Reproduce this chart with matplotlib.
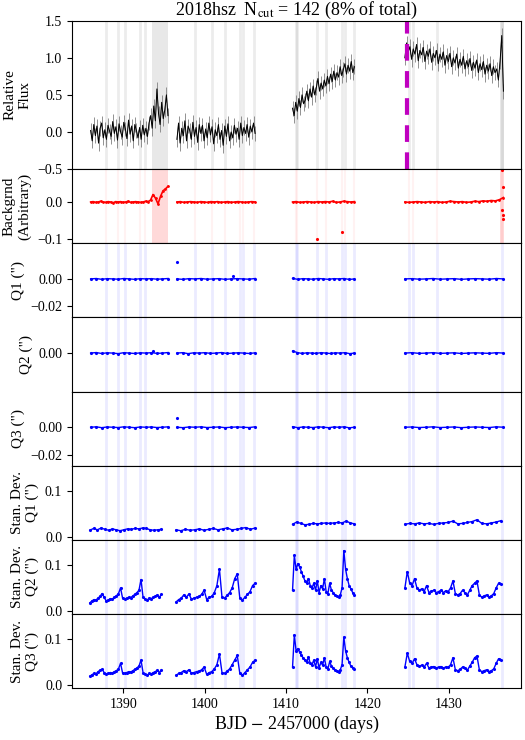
import numpy as np
import matplotlib
matplotlib.use("Agg")
import matplotlib.pyplot as plt

plt.rcParams["font.family"] = ["Liberation Serif", "DejaVu Serif"]
plt.rcParams["mathtext.fontset"] = "stix"
plt.rcParams["font.size"] = 11

# segment time ranges (BJD - 2457000)
seg_ranges = [(1386.0, 1395.5), (1396.6, 1406.2), (1410.8, 1418.4), (1424.6, 1436.7)]
sd_ranges = [(1385.9, 1394.7), (1396.5, 1406.2), (1410.8, 1418.4), (1424.6, 1436.4)]

flux = [
    [0.02, -0.12, 0.10, -0.05, 0.08, -0.15, 0.05, 0.12, -0.08, 0.03, -0.10, 0.09, 0.01, -0.06, 0.14, -0.02, 0.07,
     -0.11, 0.11, 0.00, -0.07, 0.13, 0.04, -0.09, 0.16, -0.03, 0.08, -0.12, 0.10, 0.02, -0.08, 0.06, -0.10, 0.09,
     -0.04, 0.05, -0.06, 0.12, 0.22, 0.05, 0.35, 0.15, 0.58, 0.25, 0.10, 0.40, 0.18, 0.30, 0.50, 0.22],
    [-0.10, 0.12, -0.15, 0.05, -0.05, 0.15, -0.12, 0.08, 0.02, -0.10, 0.13, -0.06, 0.06, -0.14, 0.10, -0.02, 0.09,
     -0.12, 0.04, -0.08, 0.12, -0.04, 0.07, -0.16, 0.03, -0.05, 0.10, -0.10, 0.02, -0.18, 0.08, -0.06, 0.11, -0.12,
     0.00, -0.08, 0.09, -0.03, 0.05, -0.10, 0.12, -0.05, 0.06, -0.02, 0.10, -0.07, 0.08, 0.00, 0.12, -0.02],
    [0.32, 0.22, 0.40, 0.28, 0.45, 0.33, 0.50, 0.38, 0.43, 0.55, 0.42, 0.58, 0.47, 0.62, 0.50, 0.60, 0.72, 0.55,
     0.66, 0.58, 0.70, 0.62, 0.75, 0.65, 0.78, 0.68, 0.82, 0.70, 0.80, 0.74, 0.88, 0.76, 0.84, 0.92, 0.78, 0.90,
     0.82, 0.95, 0.80, 0.88],
    [1.00, 1.20, 1.08, 1.15, 0.98, 1.12, 1.05, 1.18, 0.96, 1.10, 1.04, 1.14, 0.95, 1.09, 1.02, 1.12, 0.94, 1.06,
     1.00, 1.10, 0.92, 1.05, 0.98, 1.08, 0.90, 1.03, 0.95, 1.06, 0.88, 1.00, 0.93, 1.05, 0.86, 0.98, 0.90, 1.02,
     0.85, 0.96, 0.88, 0.99, 0.83, 0.94, 0.86, 0.97, 0.80, 0.92, 0.84, 0.95, 0.78, 0.90, 0.82, 0.92, 0.76, 0.88,
     0.80, 0.85, 0.70, 0.95, 1.30, 0.55],
]

bkg = [
    [0.0, 0.001, -0.001, 0.0, 0.002, 0.0, -0.001, 0.001, 0.0, -0.002, 0.001, 0.0, 0.001, -0.001, 0.0, 0.002, -0.001,
     0.0, 0.001, 0.0, -0.001, 0.0, 0.002, 0.001, 0.005, 0.02, 0.01, -0.005, 0.015, 0.03, 0.035, 0.042],
    [0.0, 0.001, -0.001, 0.0, 0.001, 0.0, -0.001, 0.001, 0.0, -0.001, 0.001, 0.0, 0.001, -0.001, 0.0, 0.001, -0.001,
     0.0, 0.001, 0.0, -0.001, 0.0, 0.001, 0.0],
    [0.0, 0.001, -0.001, 0.0, 0.001, 0.0, -0.001, 0.001, 0.0, 0.001, 0.0, 0.002, -0.001, 0.0, 0.002, 0.001,
     0.0, 0.001],
    [0.0, -0.001, 0.0, 0.001, 0.0, -0.001, 0.001, 0.0, 0.001, -0.001, 0.0, 0.002, 0.001, 0.0, 0.001, -0.001, 0.0,
     0.002, 0.001, 0.003, 0.002, 0.004, 0.003, 0.006, 0.012],
]
bkg_out_t = [1413.8, 1416.9, 1436.5, 1436.6, 1436.55, 1436.7, 1436.65]
bkg_out_v = [-0.100, -0.080, 0.085, 0.040, -0.020, -0.045, -0.035]

q_flat = [
    [0.0, 0.0003, -0.0003, 0.0002, 0.0, -0.0002, 0.0003, 0.0, -0.0003, 0.0002, 0.0, 0.0002, -0.0002, 0.0, 0.0003],
    [0.0, -0.0003, 0.0002, 0.0, 0.0003, -0.0002, 0.0, 0.0002, -0.0003, 0.0, 0.0002, 0.0, -0.0002, 0.0003],
    [0.0004, -0.0003, 0.0002, 0.0, -0.0002, 0.0003, 0.0, -0.0003, 0.0002, 0.0, 0.0003, -0.0004, 0.0],
    [0.0, 0.0002, -0.0002, 0.0, 0.0003, -0.0002, 0.0, 0.0002, -0.0003, 0.0, 0.0002, 0.0, -0.0002, 0.0003, 0.0],
]
q2_flat = [
    [0.0, 0.0004, -0.0003, 0.0002, 0.0, -0.0004, 0.0003, 0.0, -0.0003, 0.0002, 0.0, 0.0003, -0.0002, 0.0, 0.0004],
    [0.0, 0.0003, -0.0004, 0.0002, 0.0, 0.0003, -0.0002, 0.0, 0.0004, -0.0003, 0.0, 0.0002, 0.0, -0.0003, 0.0002],
    [0.0015, 0.0004, -0.0003, 0.0002, 0.0, -0.0002, 0.0003, 0.0, -0.0003, 0.0002, 0.0, 0.0003, -0.0004, 0.0],
    [0.0, 0.0003, -0.0002, 0.0, 0.0003, -0.0002, 0.0, 0.0002, -0.0003, 0.0, 0.0002, 0.0, -0.0002, 0.0003, 0.0],
]
q1_out_t, q1_out_v = [1396.6, 1403.5], [0.012, 0.002]
q2_out_t, q2_out_v = [1393.6], [0.0015]
q3_out_t, q3_out_v = [1396.6], [0.007]

sd_q1 = [
    [0.015, 0.019, 0.016, 0.020, 0.017, 0.015, 0.018, 0.016, 0.014, 0.016, 0.018, 0.017, 0.019, 0.018, 0.020, 0.019,
     0.016, 0.015, 0.016, 0.017],
    [0.016, 0.014, 0.017, 0.015, 0.016, 0.018, 0.015, 0.017, 0.019, 0.016, 0.018, 0.020, 0.016, 0.017, 0.019, 0.021,
     0.017, 0.020],
    [0.028, 0.033, 0.030, 0.027, 0.028, 0.030, 0.029, 0.030, 0.031, 0.030, 0.031, 0.032, 0.031, 0.035, 0.031, 0.029],
    [0.028, 0.030, 0.029, 0.031, 0.029, 0.030, 0.028, 0.030, 0.031, 0.032, 0.035, 0.029, 0.030, 0.032, 0.034, 0.038,
     0.030, 0.029, 0.031, 0.033, 0.036],
]
sd_q2 = [
    [0.018, 0.022, 0.025, 0.024, 0.028, 0.032, 0.038, 0.030, 0.022, 0.024, 0.027, 0.026, 0.030, 0.033, 0.038, 0.050,
     0.028, 0.026, 0.028, 0.030, 0.029, 0.033, 0.036, 0.040, 0.045, 0.068, 0.030, 0.026, 0.024, 0.028, 0.027, 0.030,
     0.032, 0.035, 0.030, 0.036],
    [0.020, 0.025, 0.028, 0.035, 0.030, 0.037, 0.026, 0.028, 0.030, 0.032, 0.036, 0.045, 0.025, 0.030, 0.032, 0.040,
     0.055, 0.090, 0.030, 0.028, 0.034, 0.040, 0.050, 0.070, 0.080, 0.028, 0.024, 0.030, 0.036, 0.042, 0.055, 0.060],
    [0.045, 0.120, 0.090, 0.102, 0.095, 0.085, 0.075, 0.065, 0.060, 0.070, 0.055, 0.050, 0.060, 0.045, 0.065, 0.040,
     0.055, 0.048, 0.070, 0.042, 0.038, 0.060, 0.045, 0.040, 0.035, 0.032, 0.030, 0.035, 0.050, 0.130, 0.090, 0.070,
     0.055, 0.048, 0.040, 0.035],
    [0.050, 0.085, 0.060, 0.055, 0.070, 0.050, 0.045, 0.048, 0.042, 0.055, 0.040, 0.043, 0.045, 0.040, 0.042, 0.045,
     0.040, 0.044, 0.042, 0.050, 0.065, 0.038, 0.035, 0.038, 0.045, 0.040, 0.035, 0.045, 0.055, 0.060, 0.065, 0.035,
     0.030, 0.033, 0.035, 0.030, 0.033, 0.038, 0.050, 0.060, 0.058],
]
sd_q3 = [
    [0.020, 0.023, 0.026, 0.025, 0.030, 0.033, 0.035, 0.028, 0.025, 0.026, 0.028, 0.027, 0.030, 0.032, 0.036, 0.048,
     0.027, 0.026, 0.028, 0.030, 0.029, 0.032, 0.035, 0.038, 0.042, 0.055, 0.028, 0.024, 0.022, 0.026, 0.025, 0.028,
     0.030, 0.033, 0.028, 0.034],
    [0.022, 0.026, 0.028, 0.032, 0.030, 0.034, 0.027, 0.028, 0.030, 0.031, 0.034, 0.040, 0.024, 0.028, 0.030, 0.036,
     0.045, 0.068, 0.028, 0.026, 0.031, 0.036, 0.045, 0.055, 0.065, 0.026, 0.022, 0.028, 0.034, 0.040, 0.050, 0.055],
    [0.040, 0.110, 0.075, 0.080, 0.072, 0.065, 0.060, 0.055, 0.050, 0.062, 0.048, 0.045, 0.055, 0.040, 0.058, 0.038,
     0.050, 0.044, 0.060, 0.040, 0.036, 0.052, 0.042, 0.038, 0.034, 0.032, 0.030, 0.034, 0.045, 0.105, 0.075, 0.060,
     0.050, 0.042, 0.038, 0.035],
    [0.040, 0.070, 0.052, 0.048, 0.058, 0.045, 0.042, 0.044, 0.040, 0.048, 0.038, 0.040, 0.041, 0.038, 0.040, 0.041,
     0.038, 0.040, 0.039, 0.045, 0.060, 0.034, 0.032, 0.035, 0.040, 0.038, 0.033, 0.042, 0.050, 0.060, 0.064, 0.034,
     0.030, 0.032, 0.034, 0.030, 0.032, 0.036, 0.048, 0.058, 0.056],
]

# flagged (cut) times
cut_times = [1387.9, 1389.3, 1390.2, 1392.1, 1392.7, 1398.8, 1400.9, 1402.5, 1404.4, 1404.7, 1406.1,
             1411.2, 1411.4, 1413.8, 1414.9, 1416.9, 1417.2, 1418.3, 1425.1, 1425.6, 1428.6, 1436.5]
cut_spans = [(1393.5, 1395.5), (1436.3, 1436.8)]
peak_time = 1424.9

fig, axes = plt.subplots(8, 1, figsize=(5.25, 7.4), dpi=100, sharex=True,
                         gridspec_kw={"height_ratios": [2, 1, 1, 1, 1, 1, 1, 1], "hspace": 0})
fig.subplots_adjust(left=0.137, right=0.993, top=0.972, bottom=0.07)


def seg_x(rng, vals):
    return np.linspace(rng[0], rng[1], len(vals))


# panel 1: flux
ax = axes[0]
for t in cut_times:
    ax.axvline(t, color="grey", alpha=0.15, lw=2, zorder=0)
for a, b in cut_spans:
    ax.axvspan(a, b, color="grey", alpha=0.18, lw=0, zorder=0)
for rng, vals in zip(seg_ranges, flux):
    x = seg_x(rng, vals)
    ax.errorbar(x, vals, yerr=0.1, color="grey", lw=0.5, elinewidth=0.6, zorder=1)
    ax.plot(x, vals, color="black", lw=0.7, zorder=2)
ax.axvline(peak_time, color="m", lw=3, dashes=(4, 2.5))
ax.set_ylim(-0.5, 1.5)
ax.set_yticks([-0.5, 0.0, 0.5, 1.0, 1.5])
ax.set_ylabel("Relative\nFlux")
ax.set_title(r"2018hsz  N$_{\rm cut}$ = 142 (8% of total)", fontsize=13, pad=2)

# panel 2: background
ax = axes[1]
for t in cut_times:
    ax.axvline(t, color="red", alpha=0.05, lw=1.5, zorder=0)
for a, b in cut_spans:
    ax.axvspan(a, b, color="red", alpha=0.15, lw=0, zorder=0)
for rng, vals in zip(seg_ranges, bkg):
    x = seg_x(rng, vals)
    ax.plot(x, vals, color="red", marker=".", ms=2, lw=1.2)
ax.plot(bkg_out_t, bkg_out_v, ".", color="red", ms=2.5)
ax.set_ylim(-0.11, 0.088)
ax.set_yticks([-0.1, 0.0])
ax.set_ylabel("Backgrnd\n(Arbitrary)")

blue_panels = [
    (q_flat, seg_ranges, (q1_out_t, q1_out_v), (-0.028, 0.026), [-0.02, 0.0], ['\u22120.02', '0.00'], 'Q1 (")'),
    (q2_flat, seg_ranges, (q2_out_t, q2_out_v), (-0.028, 0.026), [0.0], ['0.00'], 'Q2 (")'),
    (q_flat, seg_ranges, (q3_out_t, q3_out_v), (-0.028, 0.026), [-0.02, 0.0], ['\u22120.02', '0.00'], 'Q3 (")'),
    (sd_q1, sd_ranges, ([], []), (-0.006, 0.156), [0.0, 0.1], ['0.0', '0.1'], 'Stan. Dev.\nQ1 (")'),
    (sd_q2, sd_ranges, ([], []), (-0.006, 0.153), [0.0, 0.1], ['0.0', '0.1'], 'Stan. Dev.\nQ2 (")'),
    (sd_q3, sd_ranges, ([], []), (-0.006, 0.155), [0.0, 0.1], ['0.0', '0.1'], 'Stan. Dev.\nQ3 (")'),
]
for ax, (series, ranges, outl, ylim, ticks, labels, ylabel) in zip(axes[2:], blue_panels):
    for t in cut_times:
        ax.axvline(t, color="blue", alpha=0.08, lw=2, zorder=0)
    for rng, vals in zip(ranges, series):
        x = seg_x(rng, vals)
        ax.plot(x, vals, color="blue", marker=".", ms=2.5, lw=1.0)
    ax.plot(outl[0], outl[1], ".", color="blue", ms=2.5)
    ax.set_ylim(*ylim)
    ax.set_yticks(ticks)
    ax.set_yticklabels(labels)
    ax.set_ylabel(ylabel)

for ax in axes:
    ax.tick_params(labelsize=10)
axes[-1].set_xlim(1383.7, 1438.9)
axes[-1].set_xticks([1390, 1400, 1410, 1420, 1430])
axes[-1].set_xlabel(r"BJD $-$ 2457000 (days)", fontsize=13, labelpad=2)

fig.savefig("out.png", dpi=100)
